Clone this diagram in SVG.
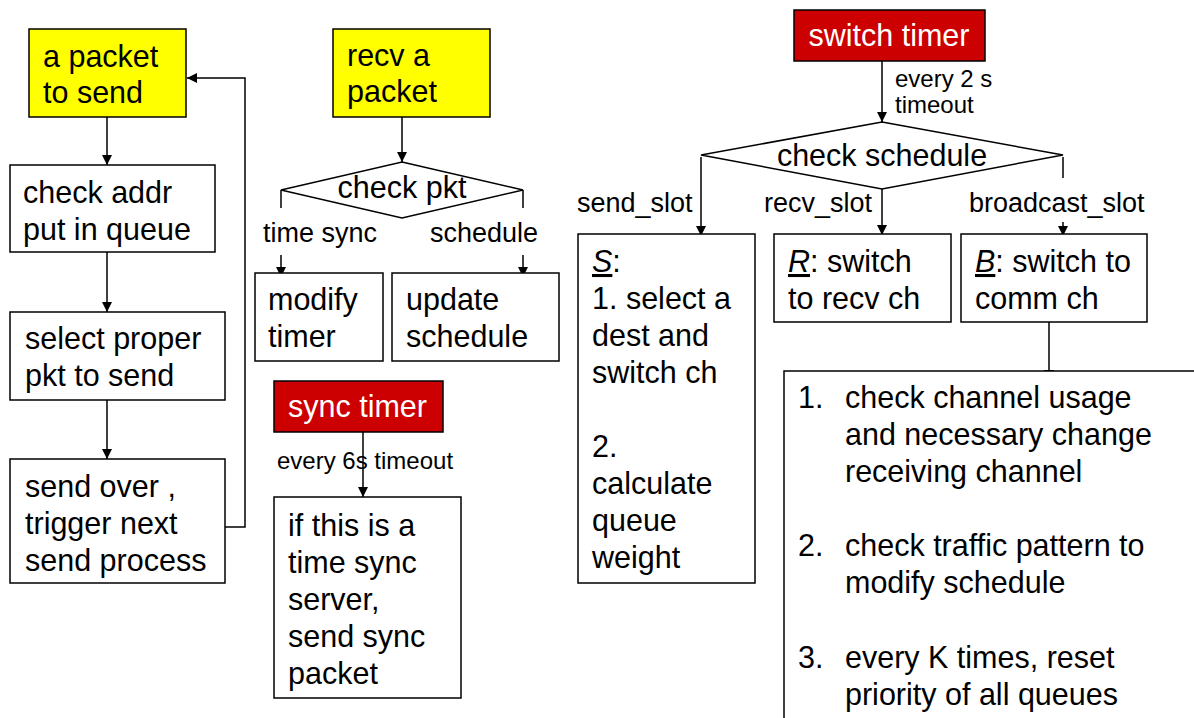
<svg xmlns="http://www.w3.org/2000/svg" width="1194" height="718" viewBox="0 0 1194 718">
<style>
text{font-family:"Liberation Sans",Arial,Helvetica,sans-serif;fill:#000}
.t{font-size:30.5px}
.lbl{font-size:27px}
.sm{font-size:24px}
.w{fill:#fff}
.box{fill:#fff;stroke:#000;stroke-width:1.5}
.yel{fill:#ffff00;stroke:#000;stroke-width:1.5}
.red{fill:#cc0000;stroke:#000;stroke-width:1.5}
.ln{fill:none;stroke:#000;stroke-width:1.5}
.u{text-decoration:underline;font-style:italic}
</style>
<defs>
<marker id="ah" viewBox="0 0 10 10" refX="10" refY="5" markerWidth="10" markerHeight="10" markerUnits="userSpaceOnUse" orient="auto">
<path d="M0,0 L10,5 L0,10 z" fill="#000"/>
</marker>
</defs>

<g id="connectors">
<line class="ln" x1="107" y1="117" x2="107" y2="165" marker-end="url(#ah)"/>
<line class="ln" x1="107" y1="252" x2="107" y2="312" marker-end="url(#ah)"/>
<line class="ln" x1="107" y1="400" x2="107" y2="459" marker-end="url(#ah)"/>
<polyline class="ln" points="225,527 245,527 245,78 187,78" marker-end="url(#ah)"/>
<line class="ln" x1="402" y1="117" x2="402" y2="162" marker-end="url(#ah)"/>
<line class="ln" x1="281" y1="190" x2="281" y2="208"/>
<line class="ln" x1="281" y1="255" x2="281" y2="277" marker-end="url(#ah)"/>
<line class="ln" x1="523" y1="190" x2="523" y2="208"/>
<line class="ln" x1="523" y1="255" x2="523" y2="277" marker-end="url(#ah)"/>
<line class="ln" x1="363" y1="432" x2="363" y2="497" marker-end="url(#ah)"/>
<line class="ln" x1="882" y1="61" x2="882" y2="122" marker-end="url(#ah)"/>
<line class="ln" x1="701" y1="157" x2="701" y2="236" marker-end="url(#ah)"/>
<line class="ln" x1="882" y1="176" x2="882" y2="235" marker-end="url(#ah)"/>
<line class="ln" x1="1063" y1="157" x2="1063" y2="178"/>
<line class="ln" x1="1063" y1="222" x2="1063" y2="236" marker-end="url(#ah)"/>
<line class="ln" x1="1049" y1="322" x2="1049" y2="380" marker-end="url(#ah)"/>
<text class="lbl" x="263" y="242">time sync</text>
<text class="lbl" x="430" y="242">schedule</text>
<text class="sm" x="277" y="469">every 6s timeout</text>
<text class="sm" x="895" y="87">every 2 s</text>
<text class="sm" x="895" y="113">timeout</text>
<text class="lbl" x="577" y="212">send_slot</text>
<text class="lbl" x="764" y="212">recv_slot</text>
<text class="lbl" x="969" y="212">broadcast_slot</text>
</g>

<g id="pkt-to-send">
<rect class="yel" x="29" y="29" width="157" height="88"/>
<text class="t" x="43" y="67">a packet</text>
<text class="t" x="43" y="103">to send</text>
</g>
<g id="check-addr">
<rect class="box" x="10" y="165" width="205" height="87"/>
<text class="t" x="23" y="203">check addr</text>
<text class="t" x="23" y="240">put in queue</text>
</g>
<g id="select-proper">
<rect class="box" x="10" y="312" width="215" height="88"/>
<text class="t" x="25" y="349">select proper</text>
<text class="t" x="25" y="386">pkt to send</text>
</g>
<g id="send-over">
<rect class="box" x="10" y="459" width="215" height="124"/>
<text class="t" x="25" y="497">send over ,</text>
<text class="t" x="25" y="534">trigger next</text>
<text class="t" x="25" y="571">send process</text>
</g>

<g id="recv-packet">
<rect class="yel" x="333" y="29" width="157" height="88"/>
<text class="t" x="347" y="66">recv a</text>
<text class="t" x="347" y="102">packet</text>
</g>
<g id="check-pkt">
<polygon class="box" points="402,162 523,190 402,218 281,190"/>
<text class="t" x="402" y="198" text-anchor="middle">check pkt</text>
</g>
<g id="modify-timer">
<rect class="box" x="255" y="273" width="128" height="88"/>
<text class="t" x="268" y="310">modify</text>
<text class="t" x="268" y="347">timer</text>
</g>
<g id="update-schedule">
<rect class="box" x="392" y="273" width="167" height="88"/>
<text class="t" x="406" y="310">update</text>
<text class="t" x="406" y="347">schedule</text>
</g>
<g id="sync-timer">
<rect class="red" x="274" y="381" width="169" height="51"/>
<text class="t w" x="288" y="417">sync timer</text>
</g>
<g id="sync-action">
<rect class="box" x="274" y="497" width="187" height="201"/>
<text class="t" x="288" y="536">if this is a</text>
<text class="t" x="288" y="573">time sync</text>
<text class="t" x="288" y="610">server,</text>
<text class="t" x="288" y="647">send sync</text>
<text class="t" x="288" y="684">packet</text>
</g>

<g id="switch-timer">
<rect class="red" x="794" y="10" width="191" height="51"/>
<text class="t w" x="889" y="46" text-anchor="middle">switch timer</text>
</g>
<g id="check-schedule">
<polygon class="box" points="882,122 1063,155 882,189 701,155"/>
<text class="t" x="882" y="166" text-anchor="middle">check schedule</text>
</g>
<g id="send-slot-box">
<rect class="box" x="578" y="234" width="177" height="349"/>
<text class="t" x="592" y="272"><tspan class="u">S</tspan>:</text>
<text class="t" x="592" y="309">1. select a</text>
<text class="t" x="592" y="346">dest and</text>
<text class="t" x="592" y="383">switch ch</text>
<text class="t" x="592" y="457">2.</text>
<text class="t" x="592" y="494">calculate</text>
<text class="t" x="592" y="531">queue</text>
<text class="t" x="592" y="568">weight</text>
</g>
<g id="recv-slot-box">
<rect class="box" x="774" y="234" width="177" height="88"/>
<text class="t" x="788" y="272"><tspan class="u">R</tspan>: switch</text>
<text class="t" x="788" y="309">to recv ch</text>
</g>
<g id="broadcast-slot-box">
<rect class="box" x="961" y="234" width="186" height="88"/>
<text class="t" x="975" y="272"><tspan class="u">B</tspan>: switch to</text>
<text class="t" x="975" y="309">comm ch</text>
</g>
<g id="broadcast-actions">
<rect class="box" x="784" y="371" width="420" height="360"/>
<text class="t" x="798" y="408">1.</text>
<text class="t" x="845" y="408">check channel usage</text>
<text class="t" x="845" y="445">and necessary change</text>
<text class="t" x="845" y="482">receiving channel</text>
<text class="t" x="798" y="556">2.</text>
<text class="t" x="845" y="556">check traffic pattern to</text>
<text class="t" x="845" y="593">modify schedule</text>
<text class="t" x="798" y="668">3.</text>
<text class="t" x="845" y="668">every K times, reset</text>
<text class="t" x="845" y="705">priority of all queues</text>
</g>
</svg>
